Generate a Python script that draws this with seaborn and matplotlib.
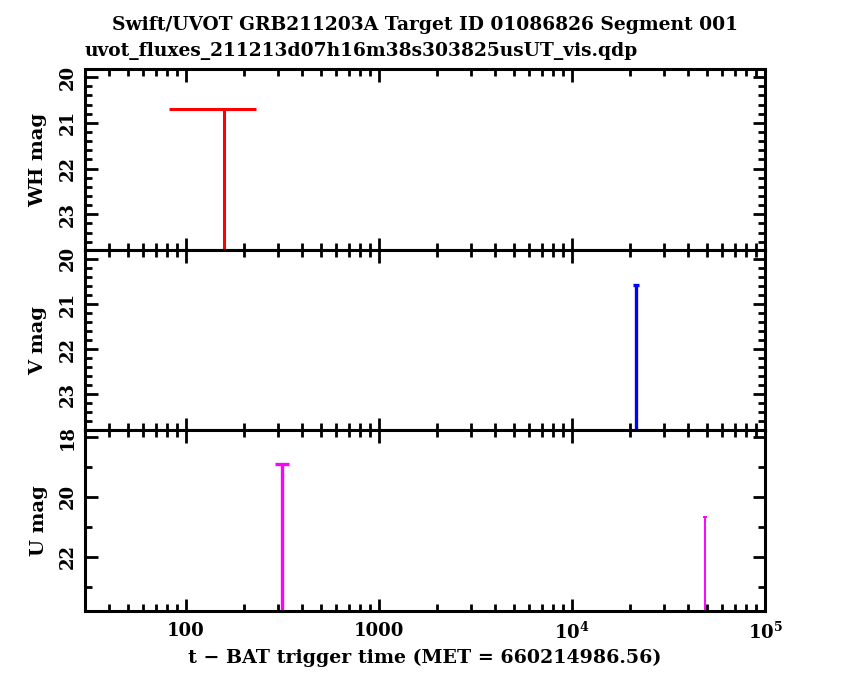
import numpy as np
import matplotlib
matplotlib.use("Agg")
import matplotlib.pyplot as plt
import seaborn as sns
from matplotlib.ticker import FixedLocator, MultipleLocator, LogLocator, NullFormatter

# UVOT light curve values (all upper limits: bar drawn down to fainter mags)
wh_t = [157.0]
wh_tlo = [81.6]
wh_thi = [232.0]
wh_mag = [20.70]

v_t = [21500.0]
v_mag = [20.58]

u_t = [316.0, 49000.0]
u_mag = [18.90, 20.67]

limit_floor = 26.0  # fainter end of the upper limit bars (off the plot)

x_ticks = [100, 1000, 1e4, 1e5]
x_ticklabels = ["100", "1000", r"$\mathbf{10^4}$", r"$\mathbf{10^5}$"]

sns.set_style("ticks")
plt.rcParams['font.family'] = ['DejaVu Serif', 'DejaVu Sans']
plt.rcParams['mathtext.fontset'] = 'dejavuserif'
plt.rcParams['text.color'] = 'black'
plt.rcParams['axes.labelcolor'] = 'black'
plt.rcParams['xtick.labelcolor'] = 'black'
plt.rcParams['ytick.labelcolor'] = 'black'
plt.rcParams['font.weight'] = 'bold'

fig = plt.figure(figsize=(8.5, 6.8), dpi=100)
left, width = 0.1, 0.8
h = 0.2655
ax1 = fig.add_axes([left, 0.1015 + 2 * h, width, h])
ax2 = fig.add_axes([left, 0.1015 + h, width, h], sharex=ax1)
ax3 = fig.add_axes([left, 0.1015, width, h], sharex=ax1)


def style_axis(ax, ylim, major, minor, ylabel):
    ax.set_xscale('log')
    ax.set_xlim(30, 1e5)
    ax.set_ylim(ylim[1], ylim[0])
    ax.yaxis.set_major_locator(MultipleLocator(major))
    ax.yaxis.set_minor_locator(MultipleLocator(minor))
    ax.xaxis.set_major_locator(FixedLocator(x_ticks))
    ax.xaxis.set_minor_locator(LogLocator(base=10, subs=np.arange(2, 10)))
    ax.xaxis.set_minor_formatter(NullFormatter())
    for sp in ax.spines.values():
        sp.set_visible(True)
        sp.set_linewidth(2.2)
        sp.set_color('black')
    ax.tick_params(which='both', direction='in', top=True, right=True,
                   width=2.0, color='black')
    ax.tick_params(which='major', length=9)
    ax.tick_params(which='minor', length=5)
    ax.tick_params(axis='y', labelsize=13, pad=6)
    for lab in ax.get_yticklabels():
        lab.set_rotation(90)
        lab.set_va('center')
        lab.set_fontweight('bold')
    ax.set_ylabel(ylabel, fontsize=14, fontweight='bold', labelpad=8)
    ax.set_facecolor('white')


# top panel: WH
ax1.errorbar(wh_t, wh_mag,
             xerr=[np.array(wh_t) - np.array(wh_tlo), np.array(wh_thi) - np.array(wh_t)],
             yerr=[[0.0] * len(wh_mag), limit_floor - np.array(wh_mag)],
             fmt='none', ecolor='red', elinewidth=2.2, capsize=0)
style_axis(ax1, (19.83, 23.78), 1, 0.2, "WH mag")

# middle panel: V
ax2.errorbar(v_t, v_mag,
             yerr=[[0.0] * len(v_mag), limit_floor - np.array(v_mag)],
             fmt='none', ecolor='blue', elinewidth=2.4, capsize=2.0, capthick=2.4)
style_axis(ax2, (19.8, 23.8), 1, 0.2, "V mag")

# bottom panel: U
u_lw = [2.4, 1.4]
u_cap = [5.0, 1.2]
for t, m, lw, cs in zip(u_t, u_mag, u_lw, u_cap):
    ax3.errorbar([t], [m], yerr=[[0.0], [limit_floor - m]],
                 fmt='none', ecolor='magenta', elinewidth=lw, capsize=cs, capthick=lw)
style_axis(ax3, (17.78, 23.81), 2, 1, "U mag")

for ax in (ax1, ax2):
    plt.setp(ax.get_xticklabels(), visible=False)
ax3.set_xticks(x_ticks)
ax3.set_xticklabels(x_ticklabels, fontsize=13, fontweight='bold')
ax3.tick_params(axis='x', pad=8)
ax3.set_xlabel("t \u2212 BAT trigger time (MET = 660214986.56)", fontsize=13.7,
               fontweight='bold', labelpad=4)

fig.text(0.5, 0.963, "Swift/UVOT GRB211203A Target ID 01086826 Segment 001",
         ha='center', va='center', fontsize=13.4, fontweight='bold')
fig.text(0.1, 0.925, "uvot_fluxes_211213d07h16m38s303825usUT_vis.qdp",
         ha='left', va='center', fontsize=13.4, fontweight='bold')

fig.savefig("out.png", dpi=100, facecolor='white')
